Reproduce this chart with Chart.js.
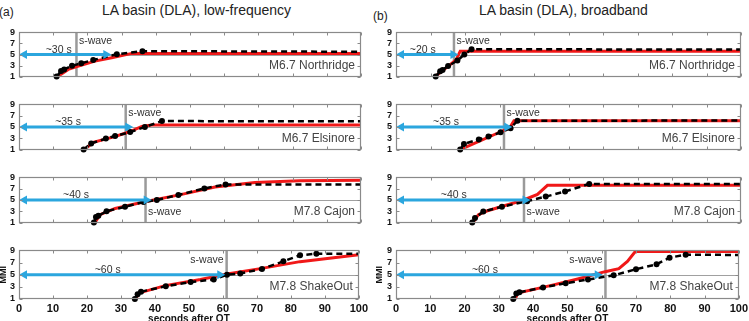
<!DOCTYPE html>
<html><head><meta charset="utf-8">
<script src="https://cdn.jsdelivr.net/npm/chart.js@4"></script>
<style>
html,body{margin:0;padding:0;background:#fff;overflow:hidden;width:749px;height:321px;}
body{position:relative;font-family:"Liberation Sans",Arial,sans-serif;}
canvas{position:absolute;}
.t{position:absolute;color:#222;white-space:nowrap;font-size:14px;line-height:16px;}
</style></head><body>
<script>
// ---------------- data ----------------
const X_TICKS = [0,10,20,30,40,50,60,70,80,90,100];
const Y_TICKS = [1,3,5,7,9];
const PANEL_TAGS = ["(a)","(b)"];
const TITLES = ["LA basin (DLA), low-frequency","LA basin (DLA), broadband"];
const EVENTS = ["M6.7 Northridge","M6.7 Elsinore","M7.8 Cajon","M7.8 ShakeOut"];
const X_TITLE = "seconds after OT";
const Y_TITLE = "MMI";
const ALERT_MMI = 5;

const S_WAVE_LF = [16.8, 31.2, 37.0, 61.1];
const S_WAVE_BB = [16.8, 31.3, 37.1, 61.1];
const WARN_END_LF = [27.0, 33.4, 38.8, 60.7];
const WARN_END_BB = [18.1, 33.7, 39.0, 60.3];
const WARN_LABEL_LF = ["~30 s","~35 s","~40 s","~60 s"];
const WARN_LABEL_BB = ["~20 s","~35 s","~40 s","~60 s"];

// (a) low-frequency: observed (black dashed) and predicted (red)
const LF_NOR_OBS_T   = [11.0, 12.3, 13.2, 15.5, 18.2, 21.7, 28.6, 36.1, 100];
const LF_NOR_OBS_MMI = [1.0, 2.0, 2.3, 2.95, 3.4, 4.0, 5.05, 5.6, 5.5];
const LF_NOR_PRE_T   = [11.3, 14.4, 16.9, 22.2, 27.1, 33.0, 100];
const LF_NOR_PRE_MMI = [1.0, 2.3, 2.8, 3.8, 4.4, 5.2, 5.2];

const LF_ELS_OBS_T   = [18.9, 21.1, 25.4, 28.1, 32.5, 36.8, 41.8, 100];
const LF_ELS_OBS_MMI = [1.0, 2.1, 2.95, 3.4, 4.1, 5.0, 6.05, 6.0];
const LF_ELS_PRE_T   = [19.3, 21.7, 28.0, 32.5, 35.9, 38.8, 100];
const LF_ELS_PRE_MMI = [1.1, 2.3, 3.3, 4.2, 5.1, 5.35, 5.35];

const LF_CAJ_OBS_T   = [21.9, 22.5, 23.2, 25.6, 31.0, 36.4, 40.3, 46.6, 54.2, 60.4, 100];
const LF_CAJ_OBS_MMI = [1.0, 2.0, 2.2, 3.0, 3.8, 4.65, 5.0, 5.9, 7.05, 7.75, 7.75];
const LF_CAJ_PRE_T   = [22.2, 23.7, 28.1, 36.4, 47.6, 57.3, 69.0, 82.0, 100];
const LF_CAJ_PRE_MMI = [1.0, 2.4, 3.5, 4.65, 6.0, 7.3, 8.1, 8.4, 8.5];

const LF_SHK_OBS_T   = [34.1, 34.9, 35.9, 43.2, 50.5, 57.3, 61.2, 65.1, 71.5, 77.8, 82.7, 87.5, 100];
const LF_SHK_OBS_MMI = [1.0, 1.8, 2.2, 3.1, 3.8, 4.2, 5.0, 5.2, 5.95, 7.2, 8.2, 8.45, 8.45];
const LF_SHK_PRE_T   = [34.3, 35.4, 43.0, 53.4, 61.2, 71.0, 82.7, 100];
const LF_SHK_PRE_MMI = [1.0, 2.0, 3.2, 4.2, 5.1, 6.0, 7.15, 8.3];

// (b) broadband
const BB_NOR_OBS_T   = [11.5, 12.8, 13.5, 15.1, 17.8, 19.8, 21.9, 100];
const BB_NOR_OBS_MMI = [1.0, 1.95, 2.2, 2.9, 3.9, 5.0, 5.95, 5.9];
const BB_NOR_PRE_T   = [11.3, 17.4, 18.6, 100];
const BB_NOR_PRE_MMI = [1.0, 4.0, 5.6, 5.6];

const BB_ELS_OBS_T   = [18.6, 19.7, 24.0, 26.8, 30.3, 33.2, 35.2, 100];
const BB_ELS_OBS_MMI = [1.0, 2.0, 2.8, 3.3, 4.05, 4.8, 6.1, 6.15];
const BB_ELS_PRE_T   = [18.6, 32.0, 33.0, 34.2, 100];
const BB_ELS_PRE_MMI = [1.0, 4.6, 4.9, 6.1, 6.1];

const BB_CAJ_OBS_T   = [22.1, 22.9, 25.3, 30.7, 38.0, 43.4, 49.0, 56.0, 100];
const BB_CAJ_OBS_MMI = [1.0, 1.8, 2.95, 3.8, 4.8, 5.6, 6.5, 7.85, 7.85];
const BB_CAJ_PRE_T   = [22.3, 23.9, 26.3, 37.0, 41.0, 43.9, 100];
const BB_CAJ_PRE_MMI = [1.0, 2.4, 3.05, 5.0, 6.0, 7.6, 7.6];

const BB_SHK_OBS_T   = [34.2, 35.1, 36.0, 42.9, 49.5, 56.0, 63.5, 70.0, 76.0, 79.8, 84.5, 100];
const BB_SHK_OBS_MMI = [1.0, 1.9, 2.1, 2.9, 3.6, 4.2, 4.9, 5.9, 6.7, 7.8, 8.3, 8.25];
const BB_SHK_PRE_T   = [34.8, 35.5, 45.0, 53.0, 61.0, 65.0, 67.5, 69.8, 100];
const BB_SHK_PRE_MMI = [1.0, 2.0, 3.2, 4.3, 5.5, 6.0, 7.2, 8.8, 8.8];

const SERIES = [
  [[LF_NOR_OBS_T,LF_NOR_OBS_MMI,LF_NOR_PRE_T,LF_NOR_PRE_MMI],
   [LF_ELS_OBS_T,LF_ELS_OBS_MMI,LF_ELS_PRE_T,LF_ELS_PRE_MMI],
   [LF_CAJ_OBS_T,LF_CAJ_OBS_MMI,LF_CAJ_PRE_T,LF_CAJ_PRE_MMI],
   [LF_SHK_OBS_T,LF_SHK_OBS_MMI,LF_SHK_PRE_T,LF_SHK_PRE_MMI]],
  [[BB_NOR_OBS_T,BB_NOR_OBS_MMI,BB_NOR_PRE_T,BB_NOR_PRE_MMI],
   [BB_ELS_OBS_T,BB_ELS_OBS_MMI,BB_ELS_PRE_T,BB_ELS_PRE_MMI],
   [BB_CAJ_OBS_T,BB_CAJ_OBS_MMI,BB_CAJ_PRE_T,BB_CAJ_PRE_MMI],
   [BB_SHK_OBS_T,BB_SHK_OBS_MMI,BB_SHK_PRE_T,BB_SHK_PRE_MMI]]
];
const S_WAVE = [S_WAVE_LF, S_WAVE_BB];
const WARN_END = [WARN_END_LF, WARN_END_BB];
const WARN_LABEL = [WARN_LABEL_LF, WARN_LABEL_BB];

// ---------------- layout / style ----------------
const FONT = '"Liberation Sans", Arial, Helvetica, sans-serif';
Chart.defaults.font.family = FONT;
const ROW_TOP = [29, 101, 174, 247];
const ROW_BOT = [80, 153, 226, 299];
const COL_LEFT = [0, 376];
const COL_W = [371, 375];
const YAXIS_W = [19, 20];
const GRAY = '#8a8a8a';
const TEXT = '#333';
const BLUE = '#2ba6de';
const RED = '#f01818';
// s-wave label placement per row
const S_LABEL_POS = ['topRight','topRight','midRight','topLeft'];

function addText(txt, left, top, size){
  const d = document.createElement('div');
  d.className = 't'; d.textContent = txt;
  d.style.left = left+'px'; d.style.top = top+'px';
  if (size) d.style.fontSize = size+'px';
  document.body.appendChild(d);
}
addText(PANEL_TAGS[0], -1, 4, 12);
addText(TITLES[0], 102, 2);
addText(PANEL_TAGS[1], 373, 8, 12);
addText(TITLES[1], 479, 2);

const panelPlugin = {
  id: 'panel',
  beforeDatasetsDraw(chart, args, o) {
    const {ctx, chartArea: a, scales: {x, y}} = chart;
    ctx.save();
    const y5 = Math.round(y.getPixelForValue(ALERT_MMI)) + 0.5;
    ctx.strokeStyle = '#a0a0a0'; ctx.lineWidth = 1;
    ctx.beginPath(); ctx.moveTo(a.left, y5); ctx.lineTo(a.right, y5); ctx.stroke();
    const xs = x.getPixelForValue(o.swave);
    ctx.strokeStyle = '#9a9a9a'; ctx.lineWidth = 2.5;
    ctx.beginPath(); ctx.moveTo(xs, a.top); ctx.lineTo(xs, a.bottom); ctx.stroke();
    ctx.fillStyle = TEXT; ctx.font = '10.5px ' + FONT; ctx.textBaseline = 'alphabetic';
    if (o.sPos === 'topRight') { ctx.textAlign = 'left'; ctx.fillText('s-wave', xs + 2.5, a.top + 12); }
    else if (o.sPos === 'topLeft') { ctx.textAlign = 'right'; ctx.fillText('s-wave', xs - 3, a.top + 13); }
    else { ctx.textAlign = 'left'; ctx.fillText('s-wave', xs + 2.5, y.getPixelForValue(2.3)); }
    ctx.font = '12px ' + FONT; ctx.fillStyle = '#444';
    ctx.textAlign = 'right'; ctx.textBaseline = 'middle';
    ctx.fillText(o.event, a.right - 6, y.getPixelForValue(2.95));
    ctx.restore();
  },
  afterDatasetsDraw(chart, args, o) {
    const {ctx, chartArea: a, scales: {x, y}} = chart;
    ctx.save();
    const ya = y.getPixelForValue(ALERT_MMI);
    const x0 = x.getPixelForValue(0), x1 = x.getPixelForValue(o.warnEnd);
    const hl = 8, hw = 4.5;
    ctx.strokeStyle = BLUE; ctx.fillStyle = BLUE; ctx.lineWidth = 3;
    ctx.beginPath(); ctx.moveTo(x0 + hl - 1, ya); ctx.lineTo(x1 - hl + 1, ya); ctx.stroke();
    ctx.beginPath(); ctx.moveTo(x0, ya); ctx.lineTo(x0 + hl, ya - hw); ctx.lineTo(x0 + hl, ya + hw); ctx.closePath(); ctx.fill();
    ctx.beginPath(); ctx.moveTo(x1, ya); ctx.lineTo(x1 - hl, ya - hw); ctx.lineTo(x1 - hl, ya + hw); ctx.closePath(); ctx.fill();
    ctx.fillStyle = TEXT; ctx.font = '10.5px ' + FONT; ctx.textAlign = 'center'; ctx.textBaseline = 'alphabetic';
    ctx.fillText(o.warnLabel, x.getPixelForValue(o.warnEnd * 0.43), ya - 2);
    ctx.strokeStyle = GRAY; ctx.lineWidth = 1.2;
    const L = Math.round(a.left) + 0.5, R = Math.round(a.right) - 0.5, T = Math.round(a.top) + 0.5, B = Math.round(a.bottom) - 0.5;
    ctx.strokeRect(L, T, R - L, B - T);
    ctx.lineWidth = 1;
    ctx.beginPath();
    X_TICKS.forEach(v => { const px = Math.round(x.getPixelForValue(v)) + 0.5;
      ctx.moveTo(px, T); ctx.lineTo(px, T + 3); ctx.moveTo(px, B); ctx.lineTo(px, B - 3); });
    Y_TICKS.forEach(v => { const py = Math.round(y.getPixelForValue(v)) + 0.5;
      ctx.moveTo(L, py); ctx.lineTo(L + 3, py); ctx.moveTo(R, py); ctx.lineTo(R - 3, py); });
    ctx.stroke();
    ctx.restore();
  }
};

function makePanel(col, row) {
  const bottomRow = row === 3;
  const top = ROW_TOP[row] - 6;
  const h = bottomRow ? 321 - top : (ROW_BOT[row] - ROW_TOP[row] + 12);
  const w = COL_W[col];
  const cv = document.createElement('canvas');
  cv.width = w; cv.height = h;
  cv.style.left = COL_LEFT[col] + 'px'; cv.style.top = top + 'px';
  cv.style.width = w + 'px'; cv.style.height = h + 'px';
  document.body.appendChild(cv);
  const [ot, om, pt, pm] = SERIES[col][row];
  new Chart(cv, {
    type: 'line',
    data: {
      datasets: [
        { label: 'observed', data: ot.map((t, i) => ({x: t, y: om[i]})),
          borderColor: '#000', borderWidth: 2.5, borderDash: [6, 4],
          pointRadius: c => c.dataIndex === c.dataset.data.length - 1 ? 0 : 3,
          pointBackgroundColor: '#000', pointBorderWidth: 0, pointStyle: 'circle',
          order: 0, clip: false, tension: 0 },
        { label: 'predicted', data: pt.map((t, i) => ({x: t, y: pm[i]})),
          borderColor: RED, borderWidth: 3, pointRadius: 0,
          order: 1, clip: false, tension: 0 }
      ]
    },
    options: {
      responsive: false, animation: false, devicePixelRatio: 1,
      layout: { padding: { left: 0, right: 10, top: 6, bottom: bottomRow ? 0 : 6 } },
      plugins: {
        legend: { display: false }, tooltip: { enabled: false },
        panel: { swave: S_WAVE[col][row], warnEnd: WARN_END[col][row], warnLabel: WARN_LABEL[col][row],
                 event: EVENTS[row], sPos: S_LABEL_POS[row] }
      },
      scales: {
        x: { type: 'linear', min: 0, max: 100, display: bottomRow,
             grid: { display: false, drawTicks: false }, border: { display: false },
             afterBuildTicks: s => { s.ticks = X_TICKS.map(v => ({value: v})); },
             ticks: { padding: 3, color: '#111', autoSkip: false, maxRotation: 0,
                      font: { size: 11, weight: 'bold' } },
             title: { display: bottomRow, text: X_TITLE, color: '#111',
                      font: { size: 10, weight: 'bold' }, padding: { top: 0, bottom: -4 } },
             afterFit: s => { s.height = bottomRow ? 22 : 0; } },
        y: { type: 'linear', min: 1, max: 9,
             grid: { display: false, drawTicks: false }, border: { display: false },
             afterBuildTicks: s => { s.ticks = Y_TICKS.map(v => ({value: v})); },
             ticks: { padding: 4, color: '#111', autoSkip: false, font: { size: 9, weight: 'bold' } },
             title: { display: bottomRow, text: Y_TITLE, color: '#111',
                      font: { size: 9, weight: 'bold' }, padding: { top: -2, bottom: 0 } },
             afterFit: s => { s.width = YAXIS_W[col]; } }
      }
    },
    plugins: [panelPlugin]
  });
}
for (let c = 0; c < 2; c++) for (let r = 0; r < 4; r++) makePanel(c, r);
</script>
</body></html>
